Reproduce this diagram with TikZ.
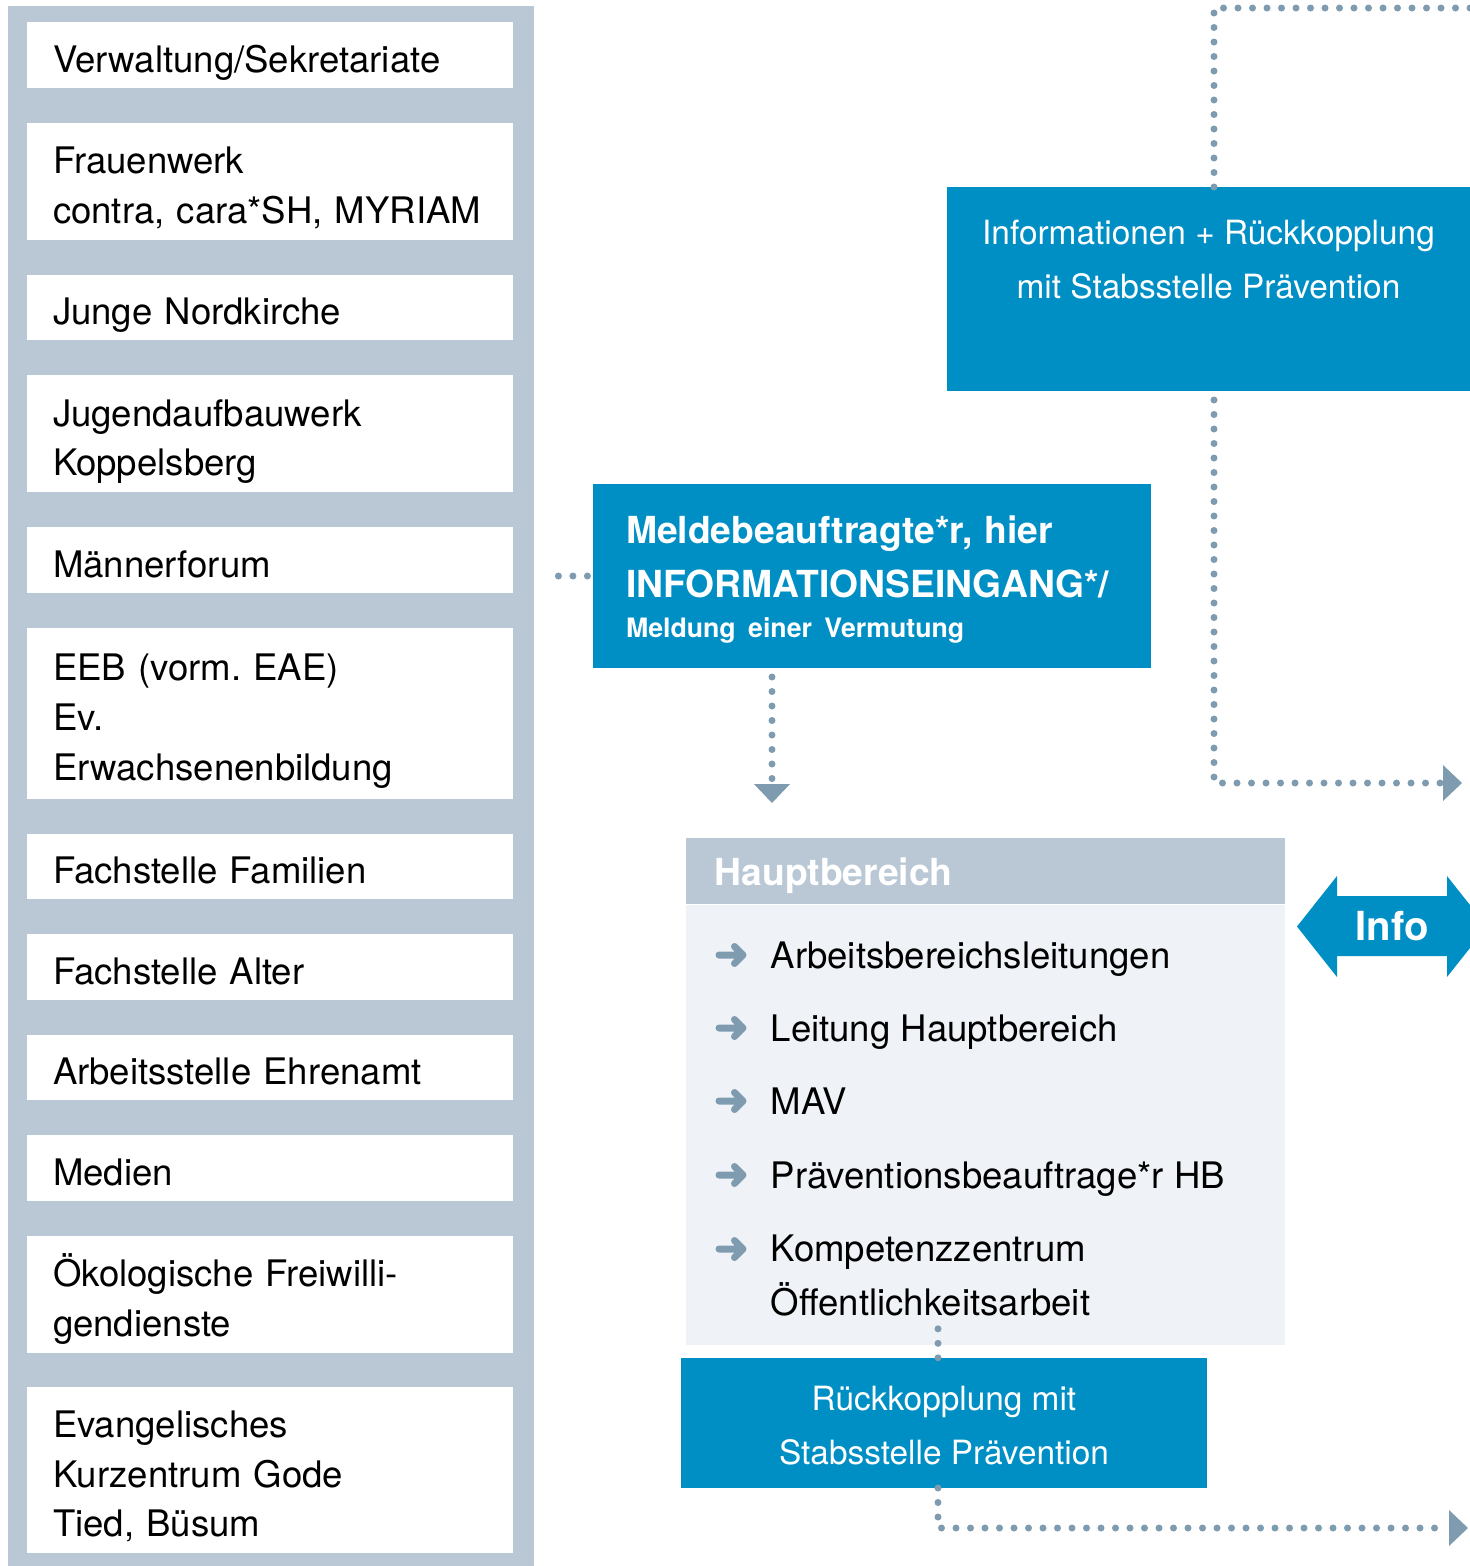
\documentclass[tikz,border=0pt]{standalone}
\usepackage{fontspec}
\setmainfont{TeX Gyre Heros}
\usetikzlibrary{positioning,arrows.meta}
\definecolor{panelgrau}{RGB}{186,200,214}
\definecolor{blau}{RGB}{0,143,197}
\definecolor{punkte}{RGB}{127,155,176}
\definecolor{hell}{RGB}{239,243,247}
\frenchspacing
\begin{document}
\begin{tikzpicture}[
		feld/.style={fill=white, anchor=north west, text width=4.34cm, inner xsep=0.26cm, inner ysep=0pt, outer sep=0pt,
			minimum height=0.655cm, align=left, font=\fontsize{10.4}{14.2}\selectfont,
			execute at begin node={\rule{0pt}{0.43cm}}, execute at end node={\rule[-0.08cm]{0pt}{0.08cm}}},
		blaufeld/.style={fill=blau, text=white, inner sep=0pt, outer sep=0pt, anchor=north west},
		punktlinie/.style={punkte, line width=0.07cm, line cap=round, dash pattern=on 0pt off 0.145cm},
		spitze/.style={-{Triangle[length=0.19cm, width=0.36cm, line width=0pt]}},
		eintrag/.style={anchor=base west, inner sep=0pt, align=left, font=\fontsize{10.4}{15.1}\selectfont},
		pfeilchen/.style={punkte, line width=0.07cm, line cap=round, line join=round}
	]
	\useasboundingbox (0,0) rectangle (14.7,-15.66);
	\node[fill=panelgrau, anchor=north west, minimum width=5.26cm, minimum height=15.7cm, inner sep=0pt] (panel) at (0.07,-0.05) {};
	\node[feld] (v1) at (0.27,-0.22) {Verwaltung/Sekretariate};
	\node[feld, minimum height=1.17cm, below=0.35cm of v1] (v2) {Frauenwerk\\contra, cara*SH, MYRIAM};
	\node[feld, below=0.35cm of v2] (v3) {Junge Nordkirche};
	\node[feld, minimum height=1.17cm, below=0.35cm of v3] (v4) {Jugendaufbauwerk\\Koppelsberg};
	\node[feld, below=0.35cm of v4] (v5) {Männerforum};
	\node[feld, minimum height=1.71cm, below=0.35cm of v5] (v6) {EEB (vorm. EAE)\\Ev.\\Erwachsenenbildung};
	\node[feld, below=0.35cm of v6] (v7) {Fachstelle Familien};
	\node[feld, below=0.35cm of v7] (v8) {Fachstelle Alter};
	\node[feld, below=0.35cm of v8] (v9) {Arbeitsstelle Ehrenamt};
	\node[feld, below=0.35cm of v9] (v10) {Medien};
	\node[feld, minimum height=1.17cm, below=0.35cm of v10] (v11) {Ökologische Freiwilli-\\gendienste};
	\node[feld, minimum height=1.66cm, below=0.34cm of v11] (v12) {Evangelisches\\Kurzentrum Gode\\Tied, Büsum};

	\node[blaufeld, minimum width=5.23cm, minimum height=2.04cm, align=center, font=\fontsize{9.5}{15.4}\selectfont] (info1) at (9.47,-1.87)
		{Informationen + Rückkopplung\\mit Stabsstelle Prävention\\[0.06cm]~};
	\node[blaufeld, text width=4.92cm, inner xsep=0.33cm, minimum height=1.84cm, align=left, font=\bfseries\fontsize{10.6}{15.4}\selectfont] (melde) at (5.93,-4.84)
		{\rule{0pt}{0.35cm}Meldebeauftragte*r, hier\\INFORMATIONSEINGANG*/\\[-0.14cm]{\fontsize{7.6}{10}\selectfont Meldung einer Vermutung}};

	\node[fill=panelgrau, text=white, anchor=north west, text width=5.41cm, inner xsep=0.29cm, inner ysep=0pt, minimum height=0.66cm,
		text height=0.30cm, text depth=0cm, font=\bfseries\fontsize{10.6}{12}\selectfont] (kopf) at (6.85,-8.37) {Hauptbereich};
	\node[fill=hell, minimum width=5.99cm, minimum height=4.40cm, inner sep=0pt, below=0pt of kopf] (rumpf) {};
	\foreach \y/\inhalt [count=\i] in {9.68/Arbeitsbereichsleitungen, 10.41/Leitung Hauptbereich, 11.14/MAV,
			11.88/Präventionsbeauftrage*r HB, 13.15/Kompetenzzentrum\\Öffentlichkeitsarbeit} {
		\node[eintrag] (e\i) at (7.70,-\y) {\inhalt};
	}
	\foreach \y in {9.68, 10.41, 11.14, 11.88, 12.62}
		\draw[pfeilchen] ([shift={(-0.51,0.13)}]e1.base west |- 0,-\y) -- ++(0.24,0) ++(-0.085,0.085) -- ++(0.085,-0.085) -- ++(-0.085,-0.085);

	\node[blaufeld, minimum width=5.26cm, minimum height=1.30cm, align=center, font=\fontsize{9.5}{15.4}\selectfont] (rueck) at (6.81,-13.58)
		{\rule{0pt}{0.30cm}Rückkopplung mit\\Stabsstelle Prävention};

	\fill[blau] (12.97,-9.265) -- (13.37,-8.76) -- (13.37,-8.96) -- (14.47,-8.96) -- (14.47,-8.76) -- (14.87,-9.265)
		-- (14.47,-9.77) -- (14.47,-9.56) -- (13.37,-9.56) -- (13.37,-9.77) -- cycle;
	\node[text=white, font=\bfseries\fontsize{11.4}{12}\selectfont] (info) at (13.92,-9.265) {Info};

	\coordinate (oben) at (14.75,-0.08);
	\coordinate (rechts1) at (14.62,-7.83);
	\coordinate (rechts2) at (14.68,-15.28);
	\draw[punktlinie] ([xshift=0.24cm]panel.east |- melde.west) -- (melde.west);
	\draw[punktlinie, spitze, shorten <=0.09cm, shorten >=0.34cm] ([xshift=1.79cm]melde.south west) -- ([xshift=1.79cm]melde.south west |- kopf.north);
	\draw[punktlinie] ([xshift=2.67cm]info1.north west) |- (oben);
	\draw[punktlinie, spitze, shorten <=0.09cm] ([xshift=2.67cm]info1.south west) |- (rechts1);
	\draw[punktlinie] ([xshift=2.53cm, yshift=0.17cm]rumpf.south west) -- ([xshift=2.53cm]rumpf.south west |- rueck.north);
	\draw[punktlinie, spitze] ([xshift=2.57cm]rueck.south west) |- (rechts2);
\end{tikzpicture}
\end{document}
